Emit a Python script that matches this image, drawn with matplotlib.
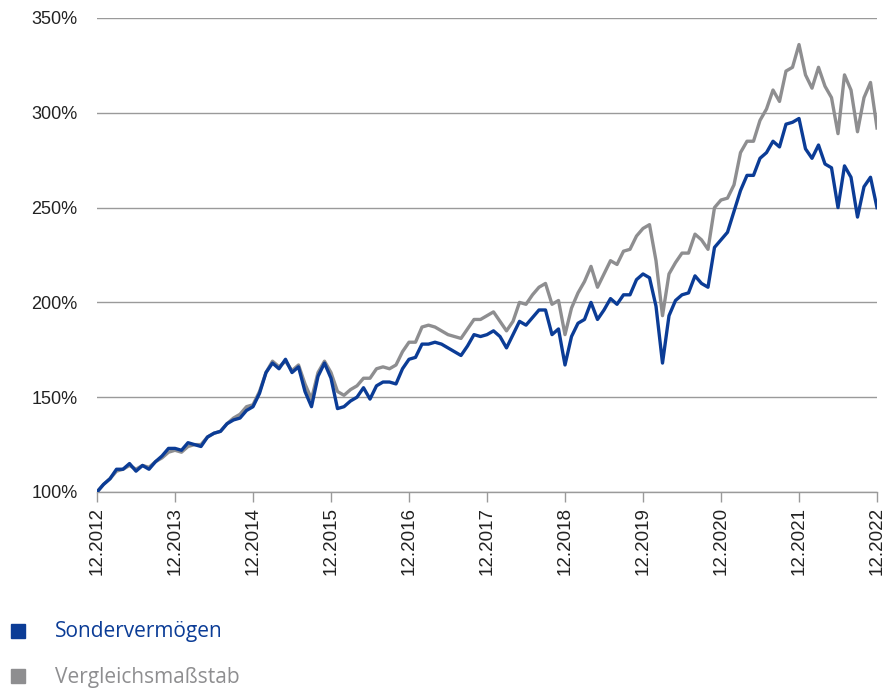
import matplotlib

matplotlib.use("Agg")

import matplotlib.pyplot as plt
from matplotlib.patches import Rectangle

# Monthly values 12.2012 .. 12.2022 (indexed, start = 100 %)
fund = [
    100,
    104, 107, 112, 112, 115, 111, 114, 112, 116, 119, 123, 123,
    122, 126, 125, 124, 129, 131, 132, 136, 138, 139, 143, 145,
    152, 163, 168, 165, 170, 163, 166, 153, 145, 161, 168, 160,
    144, 145, 148, 150, 155, 149, 156, 158, 158, 157, 165, 170,
    171, 178, 178, 179, 178, 176, 174, 172, 177, 183, 182, 183,
    185, 182, 176, 183, 190, 188, 192, 196, 196, 183, 186, 167,
    182, 189, 191, 200, 191, 196, 202, 199, 204, 204, 212, 215,
    213, 198, 168, 193, 201, 204, 205, 214, 210, 208, 229, 233,
    237, 248, 259, 267, 267, 276, 279, 285, 282, 294, 295, 297,
    281, 276, 283, 273, 271, 250, 272, 266, 245, 261, 266, 250,
]
benchmark = [
    100,
    104, 107, 111, 112, 114, 112, 114, 113, 116, 118, 121, 122,
    121, 124, 125, 125, 129, 131, 132, 136, 139, 141, 145, 146,
    153, 163, 169, 166, 169, 164, 167, 157, 149, 163, 169, 163,
    153, 151, 154, 156, 160, 160, 165, 166, 165, 167, 174, 179,
    179, 187, 188, 187, 185, 183, 182, 181, 186, 191, 191, 193,
    195, 190, 185, 190, 200, 199, 204, 208, 210, 199, 201, 183,
    197, 205, 211, 219, 208, 215, 222, 220, 227, 228, 235, 239,
    241, 222, 193, 215, 221, 226, 226, 236, 233, 228, 250, 254,
    255, 262, 279, 285, 285, 296, 302, 312, 306, 322, 324, 336,
    320, 313, 324, 314, 308, 289, 320, 312, 290, 308, 316, 292,
]
tick_labels = [f"12.{y}" for y in range(2012, 2023)]
y_ticks = [100, 150, 200, 250, 300, 350]
series_names = ["Sondervermögen", "Vergleichsmaßstab"]

BLUE = "#0b3c96"
GREY = "#8e8e90"
GRID = "#9a9a9a"

months = list(range(len(fund)))

fig = plt.figure(figsize=(8.86, 6.9), dpi=100)
ax = fig.add_axes([97 / 886, 1 - 492 / 690, 780 / 886, 474 / 690])

ax.plot(months, benchmark, color=GREY, linewidth=2.4, zorder=3)
ax.plot(months, fund, color=BLUE, linewidth=2.4, zorder=4)

ax.set_xlim(0, 120)
ax.set_ylim(100, 350)
ax.set_yticks(y_ticks)
ax.set_yticklabels([f"{v}%" for v in y_ticks], fontsize=13,
                   family="Liberation Sans", color="#222222")
ax.set_xticks(range(0, 121, 12))
ax.set_xticklabels(tick_labels, rotation=90, fontsize=13.5,
                   family="Liberation Sans", color="#222222")
ax.tick_params(axis="y", length=0, pad=14)
ax.tick_params(axis="x", length=7, width=1, color=GRID, pad=4)
ax.grid(axis="y", color=GRID, linewidth=1)
ax.set_axisbelow(True)
for side in ["top", "right", "left"]:
    ax.spines[side].set_visible(False)
ax.spines["bottom"].set_color(GRID)
ax.spines["bottom"].set_linewidth(1)

# legend below the chart
for i, (name, col) in enumerate(zip(series_names, [BLUE, GREY])):
    ytop = 624 + i * 45
    fig.add_artist(Rectangle((11 / 886, 1 - (ytop + 14) / 690), 14 / 886, 14 / 690,
                             transform=fig.transFigure, color=col))
    fig.text(55 / 886, 1 - (ytop + 8) / 690, name, color=col, fontsize=15,
             family="Open Sans", va="center", ha="left")

fig.savefig("out.png", dpi=100)
